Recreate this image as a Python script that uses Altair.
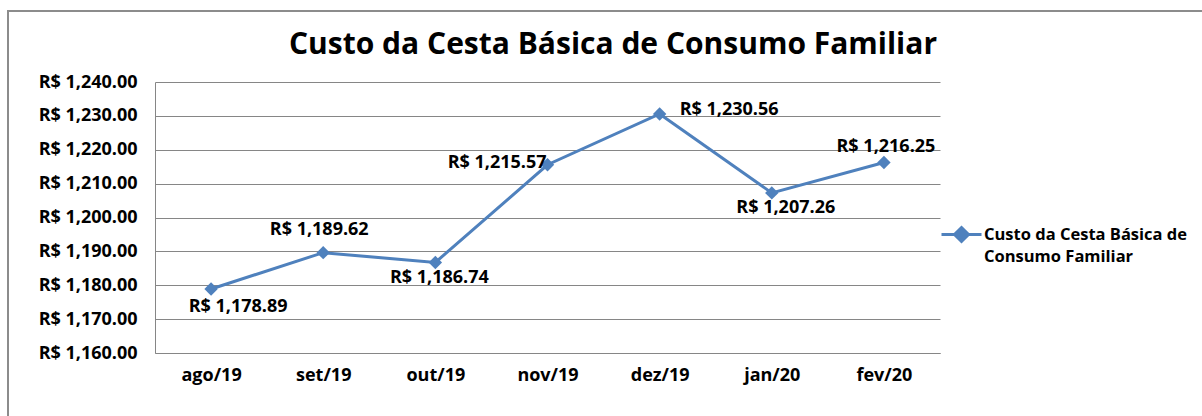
import altair as alt
import pandas as pd

months = ["ago/19", "set/19", "out/19", "nov/19", "dez/19", "jan/20", "fev/20"]
values = [1178.89, 1189.62, 1186.74, 1215.57, 1230.56, 1207.26, 1216.25]
series_name = "Custo da Cesta Básica de Consumo Familiar"
y_ticks = [1160, 1170, 1180, 1190, 1200, 1210, 1220, 1230, 1240]

df = pd.DataFrame({"month": months, "value": values, "series": [series_name] * len(months)})

FONT = "Open Sans"
BLUE = "#4F81BD"
FS = 18

x = alt.X("month:O", sort=months, title=None,
          scale=alt.Scale(type="point", padding=0.5),
          axis=alt.Axis(labelAngle=0, labelFont=FONT, labelFontSize=FS, labelFontWeight="bold",
                        labelColor="black", labelPadding=13, ticks=False, domainColor="#868686",
                        domainWidth=1, grid=False))
y = alt.Y("value:Q", title=None,
          scale=alt.Scale(domain=[1160, 1240], nice=False, zero=False),
          axis=alt.Axis(values=y_ticks, labelExpr="'R$ ' + format(datum.value, ',.2f')",
                        labelFont=FONT, labelFontSize=FS, labelFontWeight="bold", labelColor="black",
                        labelPadding=18, ticks=False, domainColor="#868686", gridColor="#868686",
                        gridWidth=1))

color = alt.Color("series:N", scale=alt.Scale(range=[BLUE]), title=None,
                  legend=alt.Legend(orient="none", legendX=785, legendY=136,
                                    symbolType="M-1,-0.25H1M0,-0.6L0.35,-0.25L0,0.1L-0.35,-0.25Z",
                                    symbolSize=1600, symbolStrokeWidth=3, symbolFillColor=BLUE,
                                    symbolStrokeColor=BLUE, labelFont=FONT, labelFontSize=16.5,
                                    labelFontWeight="bold", labelColor="black", labelLimit=400,
                                    labelOffset=1, labelBaseline="alphabetic",
                                    labelExpr="['Custo da Cesta Básica de', 'Consumo Familiar']"))

base = alt.Chart(df)
line = base.mark_line(strokeWidth=3).encode(x=x, y=y, color=color)
pts = base.mark_point(shape="diamond", size=180, filled=True, opacity=1).encode(x=x, y=y, color=color)

def labels(lst, **kw):
    return base.transform_filter(
        alt.FieldOneOfPredicate(field="month", oneOf=lst)
    ).transform_calculate(
        label="'R$ ' + format(datum.value, ',.2f')"
    ).mark_text(font=FONT, fontSize=FS, fontWeight="bold", color="black", baseline="middle", **kw).encode(
        x=x, y=y, text="label:N")

label_layers = [
    labels(["ago/19"], dx=27, dy=18),
    labels(["set/19"], dx=-4, dy=-23),
    labels(["out/19"], dx=4, dy=16),
    labels(["nov/19"], dx=-1, dy=-2, align="right"),
    labels(["dez/19"], dx=20, dy=-4, align="left"),
    labels(["jan/20"], dx=14, dy=15),
    labels(["fev/20"], dx=2, dy=-15),
]

border = alt.Chart(pd.DataFrame({"a": [0]})).mark_rect(
    fill=None, stroke="#8c8c8c", strokeWidth=2
).encode(x=alt.value(-147), x2=alt.value(1060), y=alt.value(-71), y2=alt.value(345))

title = alt.Chart(pd.DataFrame({"t": [series_name]})).mark_text(
    font=FONT, fontSize=30, fontWeight="bold", color="black", align="center", baseline="middle"
).encode(x=alt.value(458), y=alt.value(-37), text="t:N")

chart = alt.layer(border, title, line, pts, *label_layers).properties(
    width=785, height=271,
    autosize=alt.AutoSizeParams(type="none"),
    padding={"left": 155, "top": 82, "right": 262, "bottom": 63},
).configure(
    background="white",
    view=alt.ViewConfig(stroke="transparent"),
    style={"guide-label": {"lineHeight": 22}},
)

chart.save("out.html", embed_options={"renderer": "svg", "actions": False})
